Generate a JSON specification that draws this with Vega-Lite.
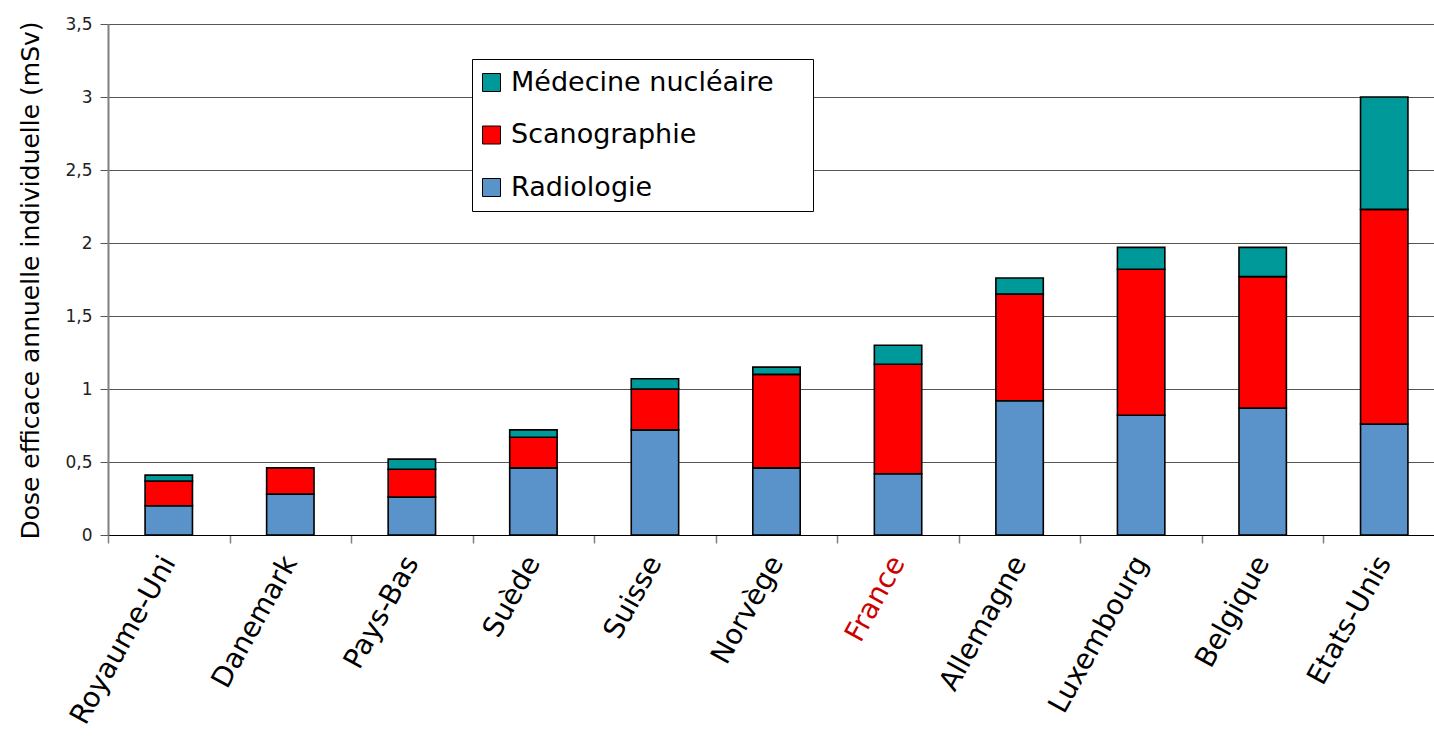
{
  "$schema": "https://vega.github.io/schema/vega-lite/v6.json",
  "autosize": "none",
  "width": 1337,
  "height": 511,
  "padding": {"left": 108, "right": -11, "top": 24, "bottom": 216},
  "background": "white",
  "config": {
    "view": {"stroke": null},
    "font": "DejaVu Sans"
  },
  "data": {
    "values": [
      {"pays": "Royaume-Uni", "type": "Radiologie", "dose": 0.20},
      {"pays": "Royaume-Uni", "type": "Scanographie", "dose": 0.17},
      {"pays": "Royaume-Uni", "type": "Médecine nucléaire", "dose": 0.04},
      {"pays": "Danemark", "type": "Radiologie", "dose": 0.28},
      {"pays": "Danemark", "type": "Scanographie", "dose": 0.18},
      {"pays": "Pays-Bas", "type": "Radiologie", "dose": 0.26},
      {"pays": "Pays-Bas", "type": "Scanographie", "dose": 0.19},
      {"pays": "Pays-Bas", "type": "Médecine nucléaire", "dose": 0.07},
      {"pays": "Suède", "type": "Radiologie", "dose": 0.46},
      {"pays": "Suède", "type": "Scanographie", "dose": 0.21},
      {"pays": "Suède", "type": "Médecine nucléaire", "dose": 0.05},
      {"pays": "Suisse", "type": "Radiologie", "dose": 0.72},
      {"pays": "Suisse", "type": "Scanographie", "dose": 0.28},
      {"pays": "Suisse", "type": "Médecine nucléaire", "dose": 0.07},
      {"pays": "Norvège", "type": "Radiologie", "dose": 0.46},
      {"pays": "Norvège", "type": "Scanographie", "dose": 0.64},
      {"pays": "Norvège", "type": "Médecine nucléaire", "dose": 0.05},
      {"pays": "France", "type": "Radiologie", "dose": 0.42},
      {"pays": "France", "type": "Scanographie", "dose": 0.75},
      {"pays": "France", "type": "Médecine nucléaire", "dose": 0.13},
      {"pays": "Allemagne", "type": "Radiologie", "dose": 0.92},
      {"pays": "Allemagne", "type": "Scanographie", "dose": 0.73},
      {"pays": "Allemagne", "type": "Médecine nucléaire", "dose": 0.11},
      {"pays": "Luxembourg", "type": "Radiologie", "dose": 0.82},
      {"pays": "Luxembourg", "type": "Scanographie", "dose": 1.00},
      {"pays": "Luxembourg", "type": "Médecine nucléaire", "dose": 0.15},
      {"pays": "Belgique", "type": "Radiologie", "dose": 0.87},
      {"pays": "Belgique", "type": "Scanographie", "dose": 0.90},
      {"pays": "Belgique", "type": "Médecine nucléaire", "dose": 0.20},
      {"pays": "Etats-Unis", "type": "Radiologie", "dose": 0.76},
      {"pays": "Etats-Unis", "type": "Scanographie", "dose": 1.47},
      {"pays": "Etats-Unis", "type": "Médecine nucléaire", "dose": 0.77}
    ]
  },
  "transform": [
    {"calculate": "indexof(['Radiologie','Scanographie','Médecine nucléaire'], datum.type)", "as": "rang"}
  ],
  "mark": {"type": "bar", "width": {"band": 0.39}, "stroke": "black", "strokeWidth": 1.6},
  "encoding": {
    "x": {
      "field": "pays",
      "type": "nominal",
      "sort": null,
      "scale": {"paddingInner": 0, "paddingOuter": 0},
      "axis": {
        "title": null,
        "tickBand": "extent",
        "tickSize": 8,
        "tickColor": "#808080",
        "tickWidth": 1.5,
        "domainColor": "black",
        "domainWidth": 1,
        "labelAngle": -61,
        "labelAlign": "right",
        "labelBaseline": "middle",
        "labelPadding": 15,
        "labelFontSize": 28,
        "labelFontWeight": "normal",
        "labelFont": "DejaVu Sans",
        "labelColor": {"condition": {"test": "datum.value === 'France'", "value": "#CC0000"}, "value": "black"},
        "labelLimit": 400
      }
    },
    "y": {
      "field": "dose",
      "type": "quantitative",
      "stack": "zero",
      "scale": {"domain": [0, 3.5], "nice": false},
      "axis": {
        "title": "Dose efficace annuelle individuelle (mSv)",
        "titleFontSize": 25,
        "titleFontWeight": "normal",
        "titleColor": "black",
        "titleFont": "DejaVu Sans",
        "titleX": -78,
        "titleY": 256,
        "titleAngle": -90,
        "titleAlign": "center",
        "titleBaseline": "middle",
        "values": [0, 0.5, 1, 1.5, 2, 2.5, 3, 3.5],
        "labelExpr": "replace(format(datum.value, '~g'), '.', ',')",
        "labelFontSize": 17,
        "labelColor": "#222222",
        "labelPadding": 8,
        "tickSize": 8,
        "tickColor": "#555555",
        "domainColor": "#808080",
        "domainWidth": 2,
        "grid": true,
        "gridColor": "#555555",
        "gridWidth": 1
      }
    },
    "color": {
      "field": "type",
      "type": "nominal",
      "scale": {
        "domain": ["Médecine nucléaire", "Scanographie", "Radiologie"],
        "range": ["#009999", "#FF0000", "#5A93C9"]
      },
      "legend": {
        "title": null,
        "orient": "none",
        "legendX": 364,
        "legendY": 35,
        "fillColor": "white",
        "strokeColor": "black",
        "padding": 10,
        "symbolType": "square",
        "symbolSize": 324,
        "symbolOffset": -4,
        "symbolStrokeColor": "black",
        "symbolStrokeWidth": 1,
        "labelFontSize": 27,
        "labelFontWeight": "normal",
        "labelFont": "DejaVu Sans",
        "labelColor": "black",
        "labelOffset": 6,
        "rowPadding": 24.5,
        "labelLimit": 500,
        "labelExpr": "datum.label + '\u00a0\u2800'"
      }
    },
    "order": {"field": "rang", "type": "quantitative"}
  }
}
